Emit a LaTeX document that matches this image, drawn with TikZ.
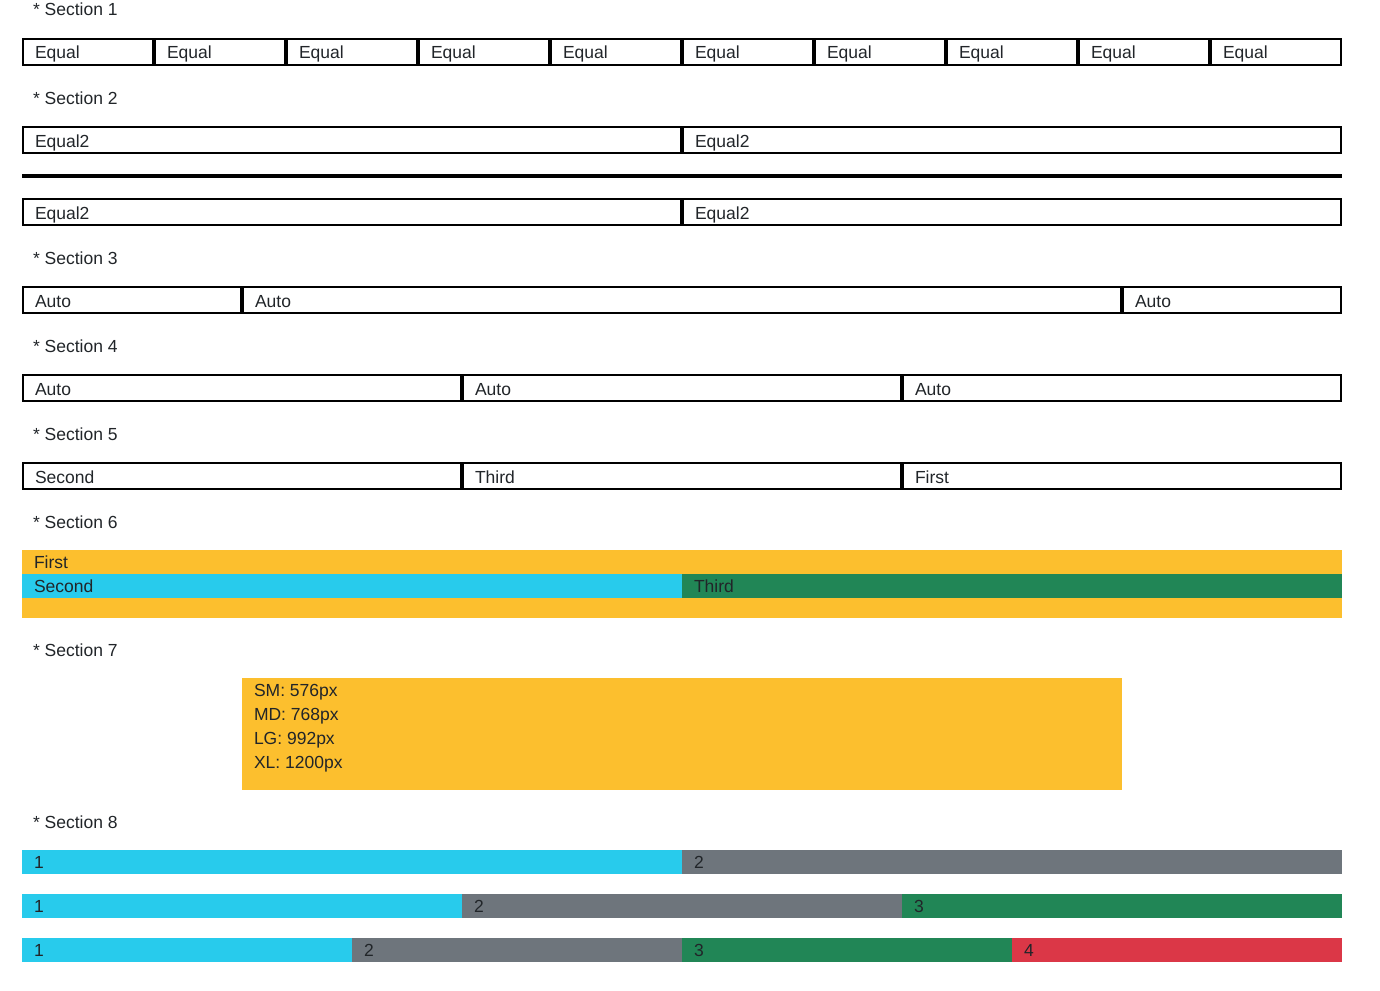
\documentclass[tikz,border=0pt]{standalone}
\usepackage{fontspec}
\setmainfont{Liberation Sans}
\definecolor{ink}{HTML}{212529}
\definecolor{warn}{HTML}{FCBF2E}
\definecolor{info}{HTML}{28CBEC}
\definecolor{muted}{HTML}{6E757C}
\definecolor{ok}{HTML}{218656}
\definecolor{bad}{HTML}{DB3747}
\tikzset{
  cellbox/.style={draw=black, line width=2pt, inner sep=0pt, outer sep=0pt},
  txt/.style={anchor=base west, inner sep=0pt, outer sep=0pt, text=ink,
              font=\fontsize{17.5}{24}\selectfont},
  band/.style={anchor=north west, inner sep=0pt, outer sep=0pt, draw=none},
}
% bordered cell: name, left x, right x, top y, text
\newcommand\gridcell[5]{%
  \node[cellbox, minimum width={(#3)-(#2)-2}, minimum height=26] (#1) at ({((#2)+(#3))/2},{#4+14}) {};
  \node[txt] (#1t) at ({(#2)+13},{#4+21}) {#5};
}
% filled bar: name, left x, right x, top y, height, colour, text
\newcommand\colbar[7]{%
  \node[band, fill=#6, minimum width={(#3)-(#2)}, minimum height=#5] (#1) at (#2,#4) {};
  \node[txt] (#1t) at ({(#2)+12},{#4+18}) {#7};
}
\begin{document}
\begin{tikzpicture}[x=1pt,y=-1pt]
\useasboundingbox (0,0) rectangle (1380,990);

% section headings
\foreach \n/\y in {1/16,2/104,3/264,4/352,5/440,6/528,7/656,8/828}
  {\node[txt] (head\n) at (33,\y) {* Section \n};}

% section 1: ten equal cells
\foreach \i in {0,...,9}
  {\gridcell{a\i}{22+132*\i}{154+132*\i}{38}{Equal}}

% section 2: two halves, separator, two halves
\gridcell{b1}{22}{682}{126}{Equal2}
\gridcell{b2}{682}{1342}{126}{Equal2}
\coordinate (rulel) at (22,176);
\coordinate (ruler) at (1342,176);
\draw[line width=4pt] (rulel) -- (ruler);
\gridcell{b3}{22}{682}{198}{Equal2}
\gridcell{b4}{682}{1342}{198}{Equal2}

% section 3: auto widths
\gridcell{c1}{22}{242}{286}{Auto}
\gridcell{c2}{242}{1122}{286}{Auto}
\gridcell{c3}{1122}{1342}{286}{Auto}

% section 4: auto thirds
\gridcell{d1}{22}{462}{374}{Auto}
\gridcell{d2}{462}{902}{374}{Auto}
\gridcell{d3}{902}{1342}{374}{Auto}

% section 5: reordered thirds
\gridcell{e1}{22}{462}{462}{Second}
\gridcell{e2}{462}{902}{462}{Third}
\gridcell{e3}{902}{1342}{462}{First}

% section 6: nested rows
\colbar{f0}{22}{1342}{550}{68}{warn}{First}
\colbar{f1}{22}{682}{574}{24}{info}{Second}
\colbar{f2}{682}{1342}{574}{24}{ok}{Third}

% section 7: breakpoints box
\node[band, fill=warn, minimum width=880, minimum height=112] (g0) at (242,678) {};
\node[txt] (g1) at (254,696) {SM: 576px};
\node[txt] (g2) at (254,720) {MD: 768px};
\node[txt] (g3) at (254,744) {LG: 992px};
\node[txt] (g4) at (254,768) {XL: 1200px};

% section 8: coloured columns
\colbar{h1}{22}{682}{850}{24}{info}{1}
\colbar{h2}{682}{1342}{850}{24}{muted}{2}
\colbar{i1}{22}{462}{894}{24}{info}{1}
\colbar{i2}{462}{902}{894}{24}{muted}{2}
\colbar{i3}{902}{1342}{894}{24}{ok}{3}
\colbar{j1}{22}{352}{938}{24}{info}{1}
\colbar{j2}{352}{682}{938}{24}{muted}{2}
\colbar{j3}{682}{1012}{938}{24}{ok}{3}
\colbar{j4}{1012}{1342}{938}{24}{bad}{4}
\end{tikzpicture}
\end{document}
